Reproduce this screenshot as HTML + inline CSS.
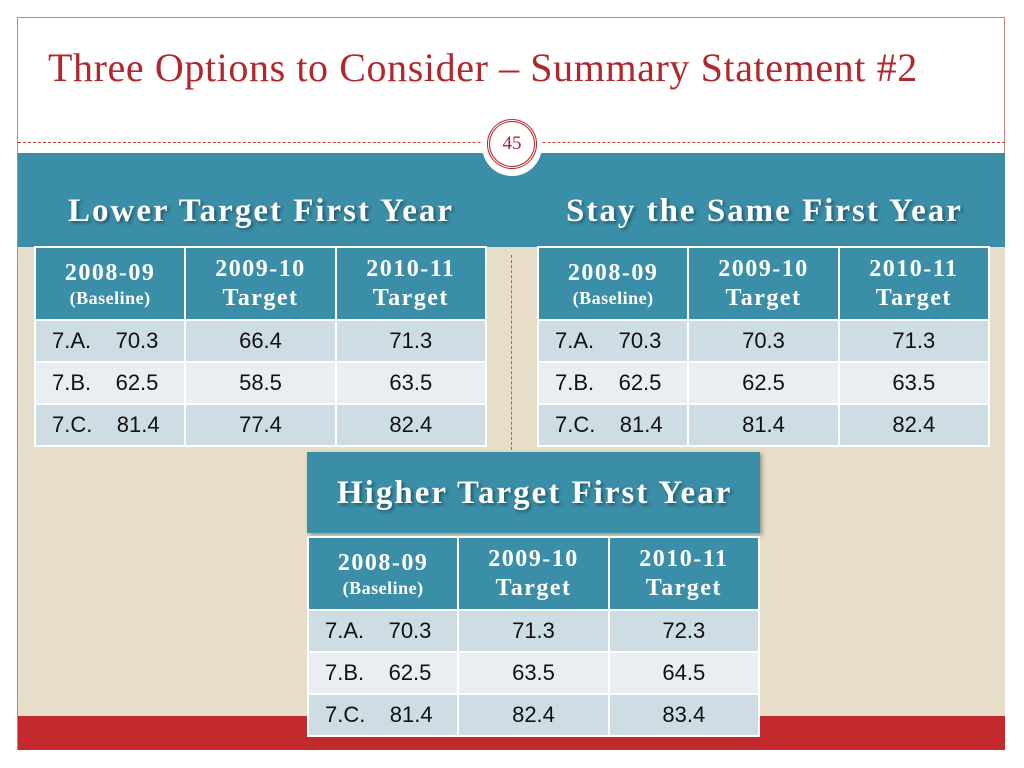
<!DOCTYPE html>
<html><head><meta charset="utf-8"><style>
body{margin:0;width:1024px;height:768px;background:#fff;position:relative;overflow:hidden;font-family:"Liberation Sans",sans-serif}
.abs{position:absolute}
.frame{left:17px;top:17px;width:988px;height:733px;border:1px solid #c98080;box-sizing:border-box}
.title{left:48px;top:44px;font-family:"Liberation Serif",serif;font-size:40px;letter-spacing:0.6px;color:#b0282e;white-space:nowrap}
.band{left:18px;top:153px;width:987px;height:94px;background:#3a8ea8}
.beige{left:18px;top:247px;width:987px;height:470px;background:#e6dec8}
.red{left:18px;top:716px;width:987px;height:34px;background:#c22a2e}
.dash{left:18px;top:142px;width:987px;border-top:1px dashed #c04040}
.circ{left:482px;top:116px;width:60px;height:60px;border-radius:50%;background:#fff}
.circ2{left:487px;top:119px;width:50px;height:50px;border-radius:50%;border:3px double #b0282e;box-sizing:border-box;font-family:"Liberation Serif",serif;color:#b0282e;font-size:19px;text-align:center;line-height:44px}
.vdash{left:511px;top:255px;height:195px;border-left:1px dashed #777}
.sec{font-family:"Liberation Serif",serif;font-weight:bold;color:#fff;font-size:33px;letter-spacing:2px;text-shadow:2px 2px 3px rgba(0,0,0,.4);white-space:nowrap}
table{position:absolute;border-collapse:collapse;table-layout:fixed}
td{border:2px solid #fff;text-align:center;padding:0;color:#111;font-size:22px}
th{border:2px solid #fff;background:#3a8ea8;color:#fff;font-family:"Liberation Serif",serif;font-weight:bold;font-size:24px;letter-spacing:1.5px;line-height:29px;padding:0}
th small{font-size:18px;letter-spacing:0.5px;display:block;line-height:20px}
tr.a td{background:#cddde3}tr.b td{background:#e8eef1}
td.f{text-align:left;padding-left:16px;white-space:pre}
</style></head><body>
<div class="abs frame"></div>
<div class="abs title">Three Options to Consider – Summary Statement #2</div>
<div class="abs band"></div>
<div class="abs beige"></div>
<div class="abs red"></div>
<div class="abs dash"></div>
<div class="abs circ"></div>
<div class="abs circ2">45</div>
<div class="abs vdash"></div>
<div class="abs sec" style="left:68px;top:193px">Lower Target First Year</div>
<div class="abs sec" style="left:566px;top:193px">Stay the Same First Year</div>

<table style="left:34px;top:246px;width:453px">
<tr style="height:73px"><th>2008-09<small>(Baseline)</small></th><th>2009-10<br>Target</th><th>2010-11<br>Target</th></tr>
<tr class="a" style="height:42px"><td class="f">7.A.    70.3</td><td>66.4</td><td>71.3</td></tr>
<tr class="b" style="height:42px"><td class="f">7.B.    62.5</td><td>58.5</td><td>63.5</td></tr>
<tr class="a" style="height:42px"><td class="f">7.C.    81.4</td><td>77.4</td><td>82.4</td></tr>
</table>
<table style="left:537px;top:246px;width:453px">
<tr style="height:73px"><th>2008-09<small>(Baseline)</small></th><th>2009-10<br>Target</th><th>2010-11<br>Target</th></tr>
<tr class="a" style="height:42px"><td class="f">7.A.    70.3</td><td>70.3</td><td>71.3</td></tr>
<tr class="b" style="height:42px"><td class="f">7.B.    62.5</td><td>62.5</td><td>63.5</td></tr>
<tr class="a" style="height:42px"><td class="f">7.C.    81.4</td><td>81.4</td><td>82.4</td></tr>
</table>

<div class="abs" style="left:307px;top:452px;width:453px;height:81px;background:#3a8ea8;box-shadow:2px 2px 4px rgba(0,0,0,.35)"></div>
<div class="abs sec" style="left:337px;top:475px">Higher Target First Year</div>
<table style="left:307px;top:536px;width:453px">
<tr style="height:73px"><th>2008-09<small>(Baseline)</small></th><th>2009-10<br>Target</th><th>2010-11<br>Target</th></tr>
<tr class="a" style="height:42px"><td class="f">7.A.    70.3</td><td>71.3</td><td>72.3</td></tr>
<tr class="b" style="height:42px"><td class="f">7.B.    62.5</td><td>63.5</td><td>64.5</td></tr>
<tr class="a" style="height:42px"><td class="f">7.C.    81.4</td><td>82.4</td><td>83.4</td></tr>
</table>
</body></html>
